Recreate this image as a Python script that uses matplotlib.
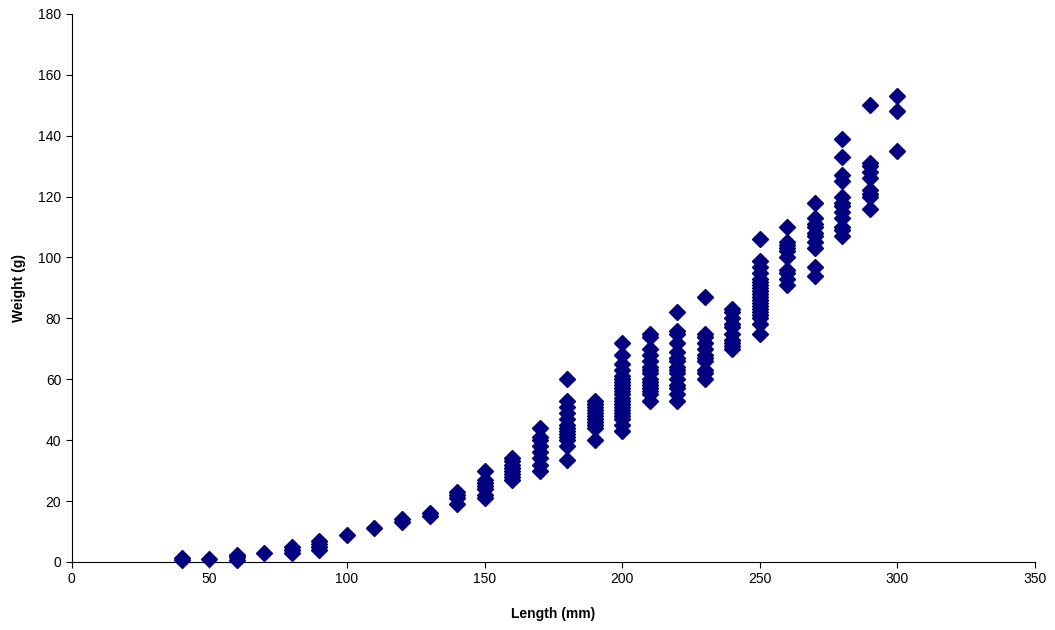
import matplotlib
matplotlib.use("Agg")
import matplotlib.pyplot as plt
import numpy as np

plt.rcParams['font.family'] = ['Liberation Sans', 'DejaVu Sans']

# fish length (mm) -> list of measured weights (g)
weights = {
    40: [0.8, 1.2],
    50: [1.0],
    60: [0.8, 1.5, 2.2],
    70: [3],
    80: [3, 4, 5],
    90: [4, 5, 6, 7],
    100: [9],
    110: [11],
    120: [13, 14],
    130: [15, 16],
    140: [19, 21, 22, 23],
    150: [21, 22, 24, 25, 26, 27, 30],
    160: [27, 28, 29, 30, 31, 32, 33, 34],
    170: [30, 32, 34, 36, 38, 40, 41, 44],
    180: [33.5, 38, 40, 41, 42, 43, 44, 45, 47, 49, 51, 53, 60],
    190: [40, 44, 45, 46, 47, 48, 49, 50, 51, 52, 53],
    200: [43, 45, 47, 48, 49, 50, 51, 52, 53, 54, 55, 56, 57, 58, 59, 60,
          61, 63, 65, 68, 72],
    210: [53, 55, 56, 57, 58, 59, 60, 62, 63, 64, 66, 68, 70, 74, 75],
    220: [53, 55, 57, 58, 60, 62, 63, 64, 66, 67, 69, 72, 75, 76, 82],
    230: [60, 62, 63, 66, 67, 68, 70, 72, 74, 75, 87],
    240: [70, 71, 72, 73, 75, 77, 78, 80, 82, 83],
    250: [75, 78, 80, 81, 82, 83, 84, 85, 86, 87, 88, 89, 90, 91, 92, 93,
          95, 97, 99, 106],
    260: [91, 93, 95, 96, 100, 102, 103, 104, 105, 110],
    270: [94, 97, 103, 105, 107, 108, 110, 111, 113, 118],
    280: [107, 109, 110, 113, 115, 117, 118, 120, 125, 127, 133, 139],
    290: [116, 120, 121, 122, 126, 128, 130, 131, 150],
    300: [135, 148, 153],
}

length = np.array([k for k, v in weights.items() for _ in v])
weight = np.array([w for v in weights.values() for w in v])

fig = plt.figure(figsize=(10.55, 6.3), dpi=100)
ax = fig.add_axes([0.068, 0.108, 0.913, 0.87])

ax.plot(length, weight, linestyle='none', marker='D', markersize=8,
        color='#000080', markeredgecolor='#000080', clip_on=False, zorder=3)

ax.set_xlim(0, 350)
ax.set_ylim(0, 180)
ax.set_xticks(np.arange(0, 351, 50))
ax.set_yticks(np.arange(0, 181, 20))

ax.spines['top'].set_visible(False)
ax.spines['right'].set_visible(False)
ax.tick_params(direction='out', length=4, labelsize=10)

ax.set_xlabel('Length (mm)', fontsize=10, fontweight='bold', labelpad=15)
ax.set_ylabel('Weight (g)', fontsize=10, fontweight='bold', labelpad=9)

fig.savefig('out.png', dpi=100)
